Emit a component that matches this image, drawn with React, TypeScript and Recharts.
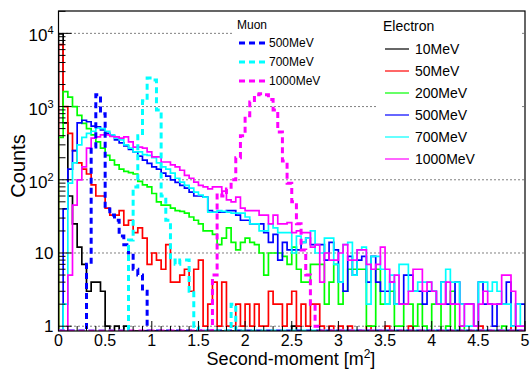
import React from 'react';
import { LineChart, Line, XAxis, YAxis, ReferenceLine } from 'recharts';

const W = 530;
const H = 369;
const BIN_WIDTH = 0.05;
const X_MAX = 5;
const Y_MIN = 0.86;
const Y_MAX = 20200;

const PLOT_LEFT = 58.5;
const PLOT_TOP = 11;
const PLOT_RIGHT = 525;
const PLOT_BOTTOM = 331;

const FONT = '"Liberation Sans", Arial, Helvetica, sans-serif';

// Electron histograms (counts per 0.05 m^2 bin, 0 .. 5)
const electron10MeV = [
  9800, 600, 60, 25, 12, 7, 3, 4, 4, 3,
  1, 0, 1, 0, 1, 0, 0, 0, 0, 0,
  0, 0, 0, 0, 0, 0, 0, 0, 0, 0,
  0, 0, 0, 0, 0, 0, 0, 0, 0, 0,
  0, 0, 0, 0, 0, 0, 0, 0, 0, 0,
  1, 0, 0, 0, 0, 0, 0, 0, 0, 0,
  0, 0, 0, 0, 0, 0, 0, 0, 0, 0,
  0, 0, 0, 0, 0, 0, 0, 0, 0, 0,
  0, 0, 0, 0, 0, 0, 0, 0, 0, 0,
  0, 0, 0, 0, 0, 0, 0, 0, 0, 0,
];
const electron50MeV = [
  7000, 1000, 430, 250, 170, 140, 120, 85, 60, 60,
  41, 33, 33, 38, 24, 28, 19, 22, 16, 7,
  10, 8, 6, 13, 4, 4, 5, 6, 3, 6,
  8, 1, 2, 4, 1, 4, 1, 1, 2, 1,
  2, 1, 2, 1, 1, 3, 2, 2, 1, 2,
  3, 1, 2, 1, 2, 2, 1, 0, 1, 0,
  1, 0, 1, 0, 0, 0, 1, 0, 0, 0,
  1, 0, 0, 0, 0, 1, 0, 0, 0, 0,
  0, 0, 0, 0, 0, 0, 0, 0, 0, 0,
  1, 0, 0, 0, 0, 0, 0, 1, 0, 0,
];
const electron200MeV = [
  380, 1600, 1350, 1000, 760, 590, 500, 410, 330, 270,
  215, 185, 160, 140, 130, 125, 120, 95, 85, 80,
  65, 50, 45, 45, 41, 38, 37, 35, 31, 28,
  25, 20, 20, 18, 13, 16, 22, 14, 11, 14,
  16, 14, 13, 10, 5, 10, 10, 10, 9, 7,
  12, 6, 4, 4, 7, 7, 7, 2, 4, 7,
  2, 3, 6, 6, 6, 6, 1, 1, 6, 2,
  2, 3, 1, 1, 2, 2, 1, 2, 1, 0,
  2, 2, 0, 1, 3, 0, 1, 0, 0, 0,
  0, 0, 0, 0, 0, 1, 0, 0, 0, 0,
];
const electron500MeV = [
  0, 40, 140, 250, 600, 650, 620, 540, 530, 480,
  430, 400, 350, 320, 290, 260, 240, 210, 185, 168,
  150, 140, 123, 112, 100, 92, 84, 77, 68, 60,
  60, 58, 38, 36, 36, 36, 38, 38, 33, 28,
  28, 25, 25, 25, 19, 14, 18, 8, 14, 11,
  11, 11, 14, 16, 13, 13, 13, 8, 14, 11,
  4, 3, 9, 5, 8, 9, 4, 9, 4, 3,
  3, 4, 2, 2, 5, 5, 3, 3, 2, 3,
  3, 2, 4, 2, 2, 4, 2, 2, 2, 1,
  4, 2, 2, 1, 2, 2, 4, 1, 2, 2,
];
const electron700MeV = [
  0, 2, 90, 170, 300, 380, 430, 460, 510, 500,
  460, 410, 370, 350, 300, 270, 240, 240, 220, 215,
  200, 170, 150, 140, 123, 105, 93, 84, 77, 68,
  62, 58, 36, 36, 38, 37, 36, 35, 35, 35,
  31, 25, 25, 20, 20, 25, 22, 19, 19, 19,
  10, 17, 14, 16, 20, 10, 10, 16, 16, 7,
  4, 13, 14, 5, 11, 12, 2, 9, 9, 6,
  2, 5, 2, 7, 7, 3, 3, 4, 4, 4,
  3, 2, 4, 6, 4, 4, 2, 1, 1, 1,
  4, 4, 3, 4, 3, 2, 2, 1, 2, 1,
];
const electron1000MeV = [
  0, 0, 5, 45, 100, 150, 270, 370, 385, 410,
  410, 390, 385, 370, 385, 330, 280, 280, 270, 240,
  205, 205, 175, 175, 160, 150, 135, 115, 105, 93,
  84, 80, 75, 80, 80, 70, 53, 50, 58, 41,
  38, 38, 38, 33, 33, 25, 33, 25, 25, 26,
  19, 20, 19, 19, 12, 13, 4, 10, 8, 8,
  10, 13, 8, 8, 11, 11, 7, 6, 7, 12,
  6, 4, 5, 2, 2, 3, 6, 6, 3, 4,
  3, 2, 2, 4, 2, 2, 1, 2, 2, 1,
  2, 3, 2, 2, 2, 5, 5, 3, 1, 1,
];

// Muon histograms
const muon500MeV = [
  0, 0, 0, 0, 0, 0, 7, 280, 1450, 800,
  40, 33, 28, 17, 13, 10, 6, 5, 3, 0,
  0, 0, 0, 0, 0, 0, 0, 0, 0, 0,
  0, 0, 0, 0, 0, 0, 0, 0, 0, 0,
  0, 0, 0, 0, 0, 0, 0, 0, 0, 0,
  0, 0, 0, 0, 0, 0, 0, 0, 0, 0,
  0, 0, 0, 0, 0, 0, 0, 0, 0, 0,
  0, 0, 0, 0, 0, 0, 0, 0, 0, 0,
  0, 0, 0, 0, 0, 0, 0, 0, 0, 0,
  0, 0, 0, 0, 0, 0, 0, 0, 0, 0,
];
const muon700MeV = [
  0, 0, 0, 0, 0, 0, 0, 0, 0, 0,
  0, 0, 0, 0, 0, 15, 80, 400, 1200, 2450,
  2300, 900, 60, 28, 8, 7, 8, 8, 3, 1,
  0, 0, 0, 0, 0, 0, 0, 2, 0, 0,
  0, 0, 0, 0, 0, 0, 0, 0, 0, 0,
  0, 0, 0, 0, 0, 0, 0, 0, 0, 0,
  0, 0, 0, 0, 0, 0, 0, 0, 0, 0,
  0, 0, 0, 0, 0, 0, 0, 0, 0, 0,
  0, 0, 0, 0, 0, 0, 0, 0, 0, 0,
  0, 0, 0, 0, 0, 0, 0, 0, 0, 0,
];
const muon1000MeV = [
  0, 0, 0, 0, 0, 0, 0, 0, 0, 0,
  0, 0, 0, 0, 0, 0, 0, 0, 0, 0,
  0, 0, 0, 0, 0, 0, 0, 0, 0, 0,
  0, 0, 0, 5, 65, 60, 75, 100, 200, 400,
  750, 1150, 1450, 1500, 1450, 1250, 900, 450, 180, 90,
  50, 25, 11, 5, 2, 1, 0, 0, 0, 0,
  0, 0, 0, 0, 0, 0, 0, 0, 0, 0,
  0, 0, 0, 0, 0, 0, 0, 0, 0, 0,
  0, 0, 0, 0, 0, 0, 0, 0, 0, 0,
  0, 0, 0, 0, 0, 0, 0, 0, 0, 0,
];

const electronSeries = [
  { key: 'e10', name: '10MeV', color: '#000000', values: electron10MeV },
  { key: 'e50', name: '50MeV', color: '#ff0000', values: electron50MeV },
  { key: 'e200', name: '200MeV', color: '#00ff00', values: electron200MeV },
  { key: 'e500', name: '500MeV', color: '#0000ff', values: electron500MeV },
  { key: 'e700', name: '700MeV', color: '#00ffff', values: electron700MeV },
  { key: 'e1000', name: '1000MeV', color: '#ff00ff', values: electron1000MeV },
];
const muonSeries = [
  { key: 'm500', name: '500MeV', color: '#0000ff', values: muon500MeV },
  { key: 'm700', name: '700MeV', color: '#00ffff', values: muon700MeV },
  { key: 'm1000', name: '1000MeV', color: '#ff00ff', values: muon1000MeV },
];
const allSeries = [...electronSeries, ...muonSeries];

const Y_DECADES = [1, 10, 100, 1000, 10000];
const X_LABEL_STEP = 0.5;

const floorVal = (v: number) => (v > 0 ? v : Y_MIN);

const buildRows = () => {
  const n = electron10MeV.length;
  const rows: any[] = [];
  const first: any = { x: 0 };
  allSeries.forEach((s) => (first[s.key] = Y_MIN));
  rows.push(first);
  for (let i = 0; i < n; i++) {
    const r: any = { x: Math.round(i * BIN_WIDTH * 1000) / 1000 };
    allSeries.forEach((s) => (r[s.key] = floorVal(s.values[i])));
    rows.push(r);
  }
  const lastTop: any = { x: X_MAX };
  allSeries.forEach((s) => (lastTop[s.key] = floorVal(s.values[n - 1])));
  rows.push(lastTop);
  const lastBottom: any = { x: X_MAX };
  allSeries.forEach((s) => (lastBottom[s.key] = Y_MIN));
  rows.push(lastBottom);
  return rows;
};
const data = buildRows();

const yTicks: number[] = [];
Y_DECADES.forEach((d) => {
  for (let m = 1; m <= 9; m++) {
    const v = d * m;
    if (v <= Y_MAX) yTicks.push(v);
  }
});

const xTicks: number[] = [];
for (let i = 0; i <= 50; i++) xTicks.push(i / 10);

const YTick = (props: any) => {
  const { y, payload } = props;
  const v = payload.value as number;
  const lg = Math.log10(v);
  const exp = Math.round(lg);
  const major = Math.abs(lg - exp) < 1e-9;
  const len = major ? 13 : 7;
  return (
    <g>
      <line x1={PLOT_LEFT} x2={PLOT_LEFT + len} y1={y} y2={y} stroke="#000" strokeWidth={1} />
      {major && exp >= 2 && (
        <text x={53.5} y={y + 8} textAnchor="end" fontSize={17} fontFamily={FONT} fill="#000">
          10<tspan dy={-7} fontSize={11}>{exp}</tspan>
        </text>
      )}
      {major && exp < 2 && (
        <text x={53.5} y={y + 6} textAnchor="end" fontSize={17} fontFamily={FONT} fill="#000">
          {exp === 0 ? '1' : '10'}
        </text>
      )}
    </g>
  );
};

const XTick = (props: any) => {
  const { x, payload } = props;
  const v = payload.value as number;
  const major = Math.abs(v / X_LABEL_STEP - Math.round(v / X_LABEL_STEP)) < 1e-9;
  const len = major ? 10 : 5;
  return (
    <g>
      <line x1={x} x2={x} y1={PLOT_BOTTOM} y2={PLOT_BOTTOM - len} stroke="#000" strokeWidth={1} />
      {major && (
        <text x={x} y={346} textAnchor="middle" fontSize={16} fontFamily={FONT} fill="#000">
          {String(v)}
        </text>
      )}
    </g>
  );
};

const Overlay = () => {
  const muonX = 239;
  const elecX = 385;
  return (
    <svg
      width={W}
      height={H}
      style={{ position: 'absolute', left: 0, top: 0, pointerEvents: 'none' }}
    >
      <rect x={233} y={13} width={145} height={78} fill="#fff" />
      <rect x={378} y={13} width={142} height={160} fill="#fff" />
      <rect
        x={PLOT_LEFT}
        y={PLOT_TOP}
        width={PLOT_RIGHT - PLOT_LEFT}
        height={PLOT_BOTTOM - PLOT_TOP}
        fill="none"
        stroke="#000"
        strokeWidth={1.2}
      />
      <text x={237} y={29} fontSize={12} fontFamily={FONT} fill="#000">Muon</text>
      {muonSeries.map((s, i) => {
        const cy = 43 + i * 19;
        return (
          <g key={s.key}>
            <line x1={muonX} x2={muonX + 28} y1={cy} y2={cy} stroke={s.color} strokeWidth={3} strokeDasharray="6 4" />
            <text x={269} y={cy + 4.3} fontSize={12} fontFamily={FONT} fill="#000">{s.name}</text>
          </g>
        );
      })}
      <text x={383} y={31} fontSize={14} fontFamily={FONT} fill="#000">Electron</text>
      {electronSeries.map((s, i) => {
        const cy = 49 + i * 22;
        return (
          <g key={s.key}>
            <line x1={elecX} x2={elecX + 24} y1={cy} y2={cy} stroke={s.color} strokeWidth={1.2} />
            <text x={415} y={cy + 5} fontSize={14} fontFamily={FONT} fill="#000">{s.name}</text>
          </g>
        );
      })}
      <text
        x={0}
        y={0}
        transform="translate(25,166) rotate(-90)"
        textAnchor="middle"
        fontSize={20}
        fontFamily={FONT}
        fill="#000"
      >
        Counts
      </text>
      <text x={291} y={365} textAnchor="middle" fontSize={18} fontFamily={FONT} fill="#000">
        Second-moment [m<tspan dy={-7} fontSize={12}>2</tspan><tspan dy={7}>]</tspan>
      </text>
    </svg>
  );
};

export default function App() {
  return (
    <div style={{ position: 'absolute', left: 0, top: 0, width: W, height: H, background: '#fff' }}>
      <LineChart
        width={W}
        height={H}
        data={data}
        margin={{ top: PLOT_TOP, right: W - PLOT_RIGHT, left: 0, bottom: 8 }}
      >
        <XAxis
          dataKey="x"
          type="number"
          domain={[0, X_MAX]}
          ticks={xTicks}
          interval={0}
          allowDataOverflow
          axisLine={false}
          tickLine={false}
          height={H - 8 - PLOT_BOTTOM}
          tick={(p: any) => <XTick {...p} />}
        />
        <YAxis
          scale="log"
          type="number"
          domain={[Y_MIN, Y_MAX]}
          ticks={yTicks}
          interval={0}
          allowDataOverflow
          axisLine={false}
          tickLine={false}
          width={PLOT_LEFT}
          tick={(p: any) => <YTick {...p} />}
        />
        {Y_DECADES.map((d) => (
          <ReferenceLine key={d} y={d} stroke="#000" strokeWidth={1} strokeDasharray="1 3" />
        ))}
        {electronSeries.map((s) => (
          <Line
            key={s.key}
            dataKey={s.key}
            type="stepAfter"
            stroke={s.color}
            strokeWidth={1.7}
            dot={false}
            isAnimationActive={false}
          />
        ))}
        {muonSeries.map((s) => (
          <Line
            key={s.key}
            dataKey={s.key}
            type="stepAfter"
            stroke={s.color}
            strokeWidth={3}
            strokeDasharray="6 4"
            dot={false}
            isAnimationActive={false}
          />
        ))}
      </LineChart>
      <Overlay />
    </div>
  );
}
